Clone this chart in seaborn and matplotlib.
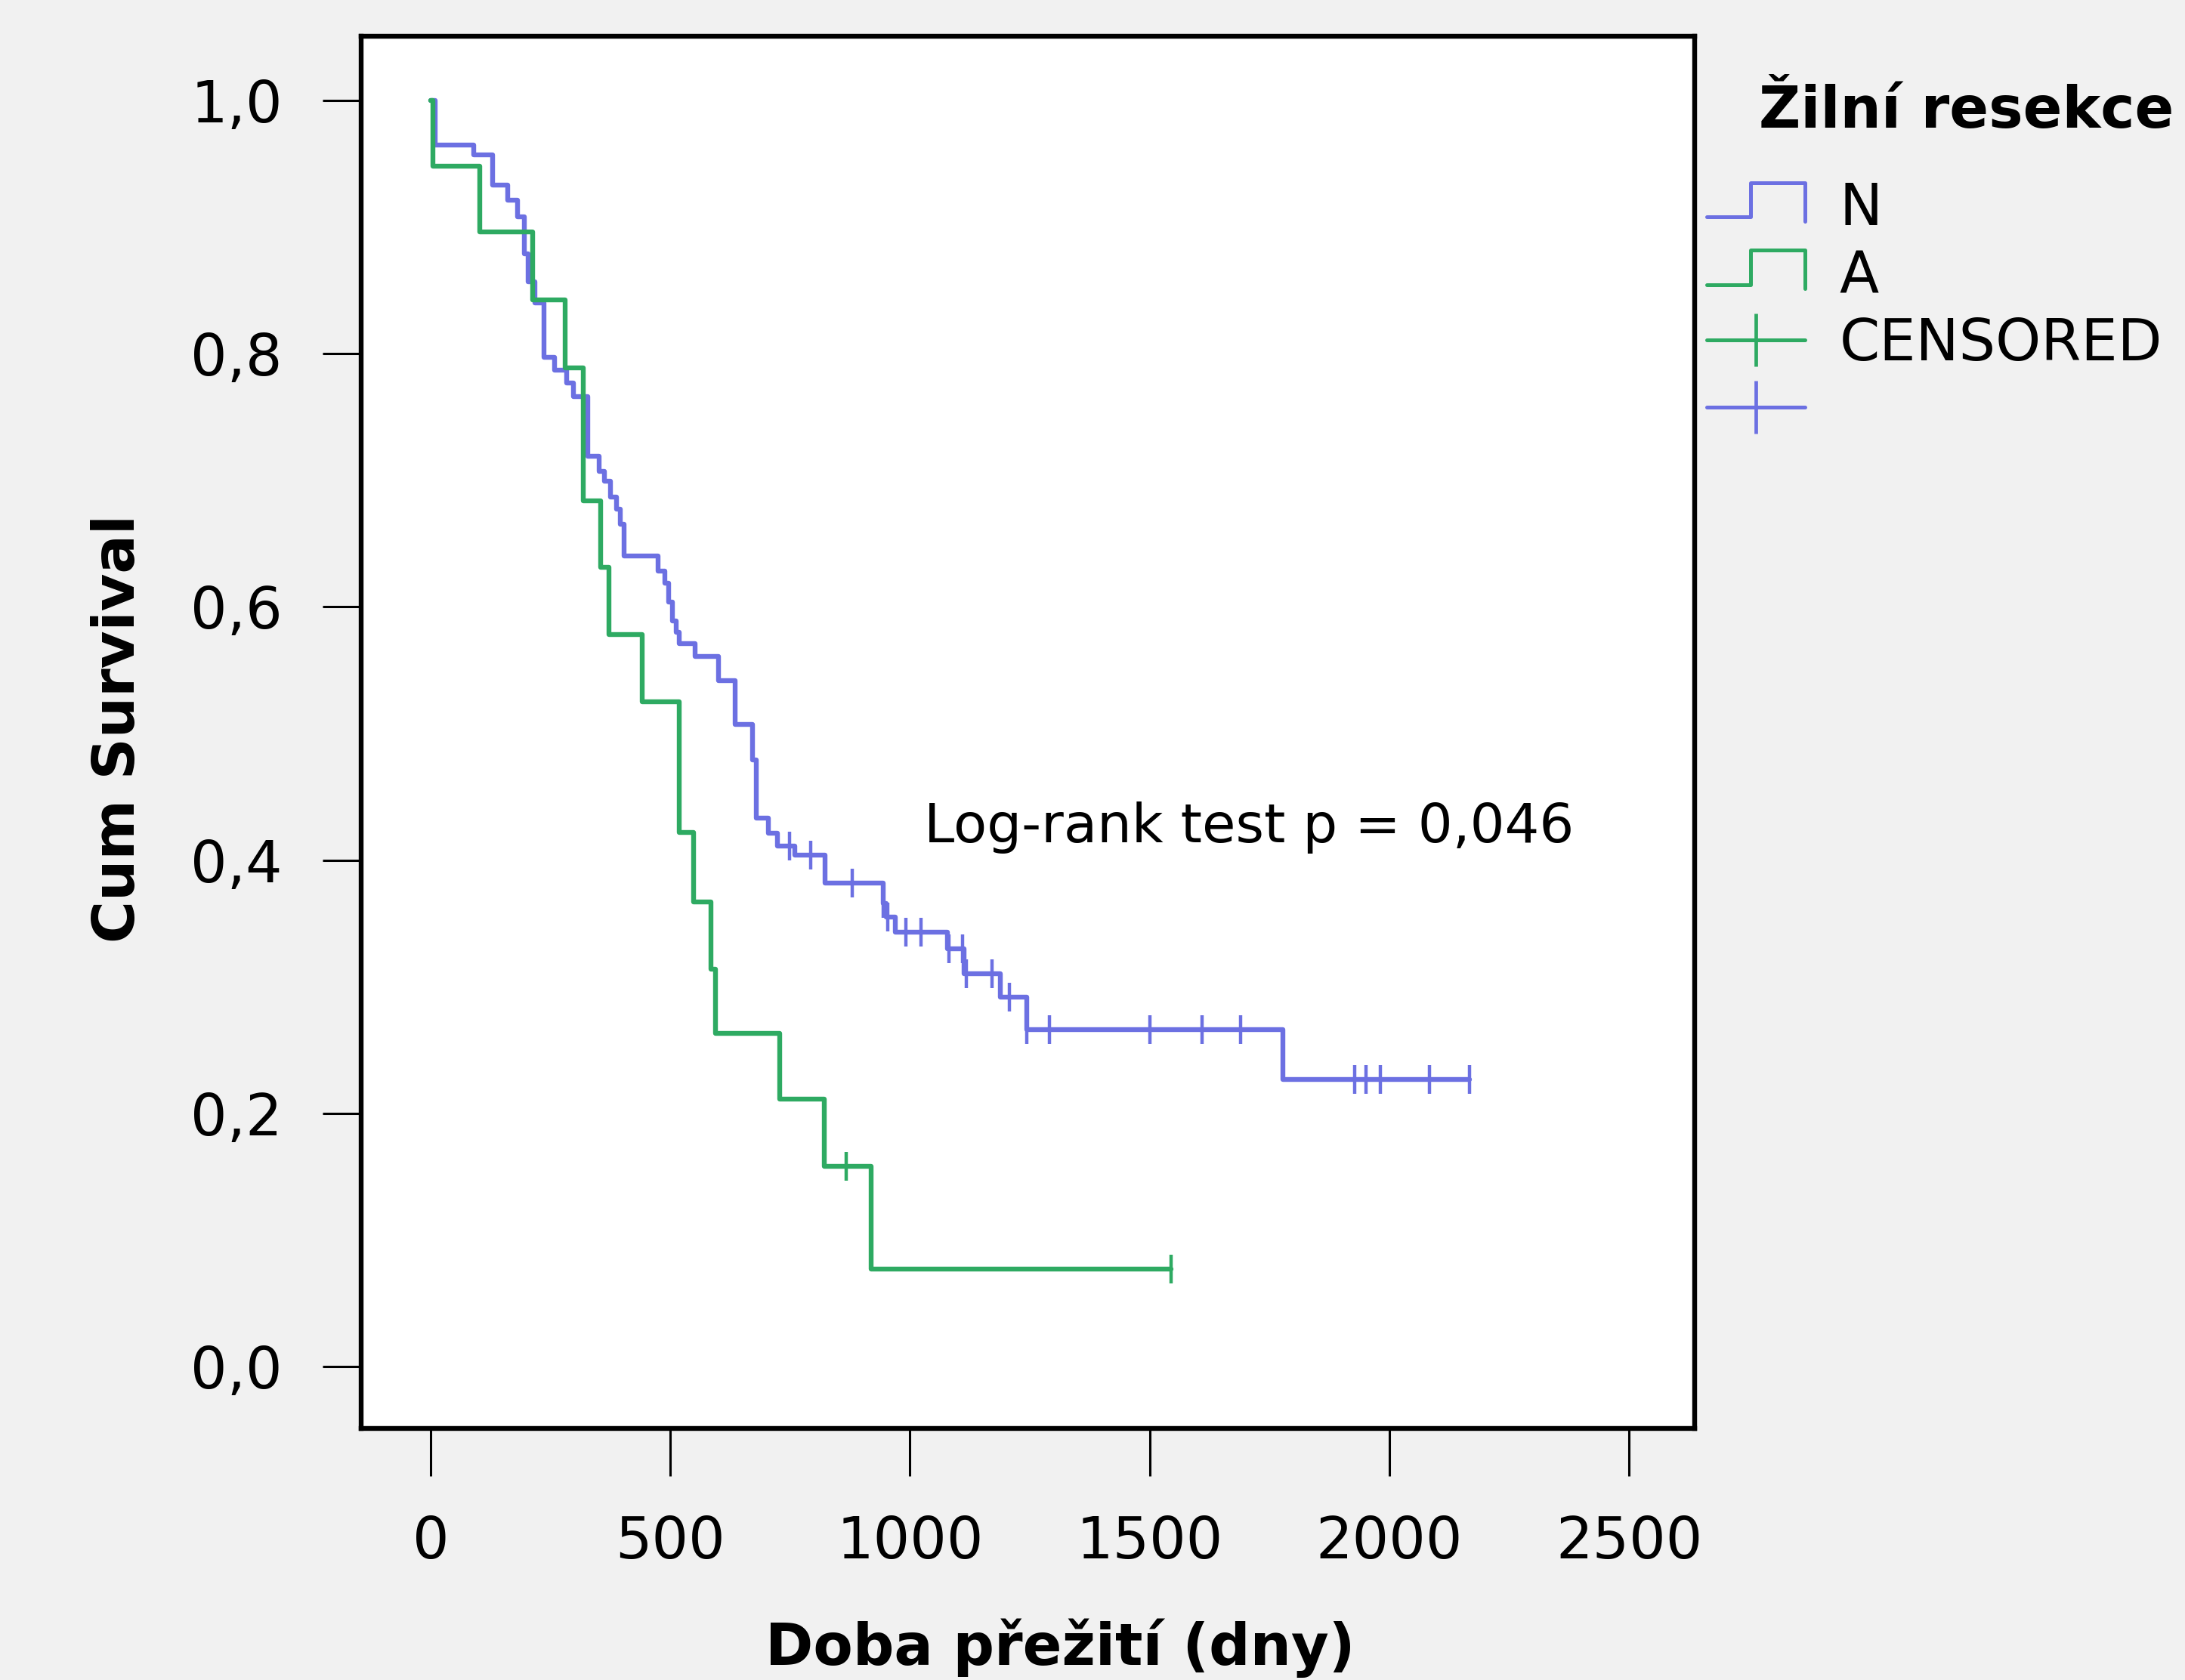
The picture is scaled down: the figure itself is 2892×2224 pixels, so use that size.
import numpy as np
import pandas as pd
import matplotlib
matplotlib.use("Agg")
import matplotlib.pyplot as plt
from matplotlib.lines import Line2D
from matplotlib.legend_handler import HandlerBase
import seaborn as sns

# Kaplan-Meier steps (days, survival after the event)
n_times = [0, 10, 90, 129, 161, 181, 195, 203, 217, 236, 258, 284, 298, 328, 352, 362,
           375, 387, 396, 403, 475, 489, 497, 505, 512, 519, 551, 600, 635, 671, 679,
           705, 724, 760, 822, 944, 950, 970, 1078, 1112, 1188, 1243, 1778, 2167]
n_surv = [1.0, 0.965, 0.957, 0.933, 0.921, 0.908, 0.879, 0.857, 0.840, 0.797, 0.787,
          0.777, 0.766, 0.719, 0.707, 0.699, 0.687, 0.677, 0.665, 0.640, 0.628, 0.619,
          0.604, 0.589, 0.580, 0.571, 0.561, 0.542, 0.507, 0.479, 0.433, 0.421, 0.411,
          0.404, 0.382, 0.366, 0.355, 0.343, 0.330, 0.310, 0.292, 0.266, 0.227, 0.227]
n_censored = [749, 793, 880, 944, 954, 991, 1023, 1081, 1110, 1118, 1171, 1207, 1243,
              1291, 1500, 1610, 1690, 1927, 1951, 1981, 2084, 2167]

a_times = [0, 4, 102, 213, 280, 318, 355, 372, 442, 518, 549, 584, 594, 728, 821, 919, 1544]
a_surv = [1.0, 0.948, 0.896, 0.8425, 0.789, 0.684, 0.631, 0.578, 0.525, 0.422, 0.367,
          0.314, 0.263, 0.211, 0.158, 0.077, 0.077]
a_censored = [867, 1544]

x_ticks = [0, 500, 1000, 1500, 2000, 2500]
y_ticks = [0.0, 0.2, 0.4, 0.6, 0.8, 1.0]
y_tick_labels = ["0,0", "0,2", "0,4", "0,6", "0,8", "1,0"]

blue = "#6c70e2"
green = "#2eaa62"
palette = {"N": blue, "A": green}


def surv_at(times, surv, t):
    idx = np.searchsorted(times, t, side="right") - 1
    return np.asarray(surv)[idx]


curves = pd.concat([
    pd.DataFrame({"time": n_times, "surv": n_surv, "group": "N"}),
    pd.DataFrame({"time": a_times, "surv": a_surv, "group": "A"}),
])
cens = pd.concat([
    pd.DataFrame({"time": n_censored, "surv": surv_at(n_times, n_surv, n_censored), "group": "N"}),
    pd.DataFrame({"time": a_censored, "surv": surv_at(a_times, a_surv, a_censored), "group": "A"}),
])

sns.set_theme(style="white")
plt.rcParams["font.family"] = ["DejaVu Sans"]
plt.rcParams["text.color"] = "black"
plt.rcParams["axes.labelcolor"] = "black"
plt.rcParams["xtick.color"] = "black"
plt.rcParams["ytick.color"] = "black"
fs = 55

fig = plt.figure(figsize=(28.92, 22.24), dpi=100, facecolor="#f1f1f1")
ax = fig.add_axes([0.1653, 0.1499, 0.6103, 0.8285])
ax.set_facecolor("white")

sns.lineplot(data=curves, x="time", y="surv", hue="group", palette=palette,
             estimator=None, drawstyle="steps-post", linewidth=4.6, legend=False, ax=ax)
sns.scatterplot(data=cens, x="time", y="surv", hue="group", palette=palette,
                marker="|", s=750, linewidth=3.2, legend=False, ax=ax, zorder=3)

ax.set_xlim(-145, 2637)
ax.set_ylim(-0.0487, 1.0507)
ax.set_xticks(x_ticks)
ax.set_xticklabels([str(v) for v in x_ticks])
ax.set_yticks(y_ticks)
ax.set_yticklabels(y_tick_labels)
ax.tick_params(axis="y", length=37, width=2.2, pad=38, labelsize=fs, direction="out",
               left=True)
ax.tick_params(axis="x", length=45, width=2.2, pad=37, labelsize=fs, direction="out",
               bottom=True)
for sp in ax.spines.values():
    sp.set_color("black")
    sp.set_linewidth(4.6)
ax.set_xlabel("")
ax.set_ylabel("")

ax.text(1029, 0.426, "Log-rank test p = 0,046", fontsize=52, ha="left", va="center")

fig.text(157 / 2892, 1 - 964 / 2224, "Cum Survival", rotation=90, fontsize=fs,
         fontweight="bold", ha="center", va="center")
fig.text(1403 / 2892, 1 - 2182 / 2224, "Doba přežití (dny)", fontsize=fs,
         fontweight="bold", ha="center", va="center")
fig.text(2328 / 2892, 1 - 148 / 2224, "Žilní resekce", fontsize=fs,
         fontweight="bold", ha="left", va="center")


class StepHandler(HandlerBase):
    def create_artists(self, legend, orig_handle, xdescent, ydescent, width, height,
                       fontsize, trans):
        xs = np.array([0, 0.45, 0.45, 1.0, 1.0]) * width - xdescent
        ys = np.array([0.2, 0.2, 1.05, 1.05, 0.1]) * height - ydescent
        line = Line2D(xs, ys, color=orig_handle.get_color(),
                      linewidth=orig_handle.get_linewidth())
        line.set_transform(trans)
        return [line]


step_n = Line2D([], [], color=blue, linewidth=3.6)
step_a = Line2D([], [], color=green, linewidth=3.6)
cross_a = Line2D([], [], color=green, linewidth=3.6, marker="|", markersize=50,
                 markeredgewidth=3.4)
cross_n = Line2D([], [], color=blue, linewidth=3.6, marker="|", markersize=50,
                 markeredgewidth=3.4)
fig.legend([step_n, step_a, cross_a, cross_n], ["N", "A", "CENSORED", " "],
           handler_map={step_n: StepHandler(), step_a: StepHandler()},
           loc="upper left", bbox_to_anchor=(2259 / 2892, 1 - 240 / 2224),
           frameon=False, fontsize=fs, handlelength=1.7, handletextpad=0.6,
           labelspacing=0.2, borderpad=0, borderaxespad=0, numpoints=1)

fig.savefig("out.png", dpi=100, facecolor=fig.get_facecolor())
